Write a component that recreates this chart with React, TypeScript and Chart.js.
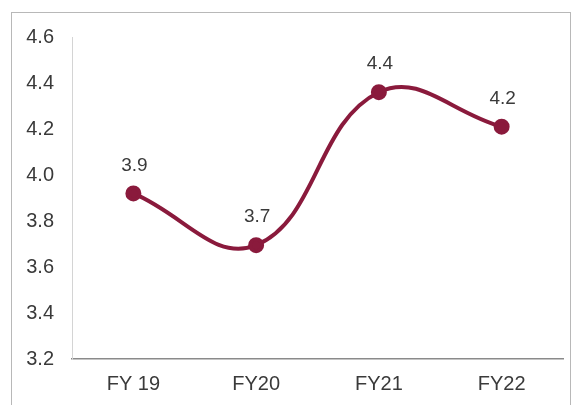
import React, { useEffect, useRef } from "react";
import { Chart, registerables } from "chart.js";

Chart.register(...registerables);

const categories = ["FY 19", "FY20", "FY21", "FY22"];
const values = [3.92, 3.695, 4.36, 4.21];
const valueLabels = ["3.9", "3.7", "4.4", "4.2"];
const yTicks = [3.2, 3.4, 3.6, 3.8, 4.0, 4.2, 4.4, 4.6];

const LINE = "#8A1A3C";
const FONT = "'Liberation Sans', Arial, sans-serif";
const TEXT = "#3a3a3a";

const labelPlugin = {
  id: "valueLabels",
  afterDatasetsDraw(chart: any) {
    const ctx = chart.ctx;
    const meta = chart.getDatasetMeta(0);
    ctx.save();
    ctx.font = `19px ${FONT}`;
    ctx.fillStyle = TEXT;
    ctx.textAlign = "center";
    ctx.textBaseline = "middle";
    meta.data.forEach((pt: any, i: number) => {
      ctx.fillText(valueLabels[i], pt.x + 1, pt.y - 28);
    });
    ctx.restore();
  },
};

export default function App() {
  const ref = useRef<HTMLCanvasElement>(null);
  useEffect(() => {
    const chart = new Chart(ref.current!, {
      type: "line",
      data: {
        labels: categories,
        datasets: [
          {
            data: values,
            borderColor: LINE,
            backgroundColor: LINE,
            borderWidth: 4,
            pointRadius: 6,
            pointBackgroundColor: LINE,
            pointBorderColor: LINE,
            tension: 0.42,
            fill: false,
          },
        ],
      },
      options: {
        animation: false,
        responsive: false,
        maintainAspectRatio: false,
        layout: { padding: { left: 0, top: 37, right: 13, bottom: 0 } },
        plugins: { legend: { display: false }, tooltip: { enabled: false } },
        scales: {
          x: {
            offset: true,
            afterFit(scale: any) {
              scale.height = 46;
            },
            grid: { display: false, drawTicks: false },
            border: { display: true, color: "#8a8a8a", width: 1.5 },
            ticks: {
              padding: 13,
              color: TEXT,
              font: { family: FONT, size: 20 },
            },
          },
          y: {
            min: 3.2,
            max: 4.6,
            afterFit(scale: any) {
              scale.width = 72;
            },
            afterBuildTicks(scale: any) {
              scale.ticks = yTicks.map((v) => ({ value: v }));
            },
            grid: { display: false, drawTicks: false },
            border: { display: true, color: "#d4d4d4", width: 1 },
            ticks: {
              padding: 18,
              color: TEXT,
              font: { family: FONT, size: 20 },
              callback: (v: any) => Number(v).toFixed(1),
            },
          },
        },
      },
      plugins: [labelPlugin],
    });
    return () => chart.destroy();
  }, []);

  return (
    <div style={{ position: "fixed", left: 0, top: 0, width: 576, height: 405, background: "#fff" }}>
      <div
        style={{
          position: "absolute",
          left: 11,
          top: 12,
          width: 560,
          height: 400,
          border: "1.5px solid #b8b8b8",
          boxSizing: "border-box",
        }}
      />
      <canvas ref={ref} width={576} height={405} style={{ position: "absolute", left: 0, top: 0 }} />
    </div>
  );
}
